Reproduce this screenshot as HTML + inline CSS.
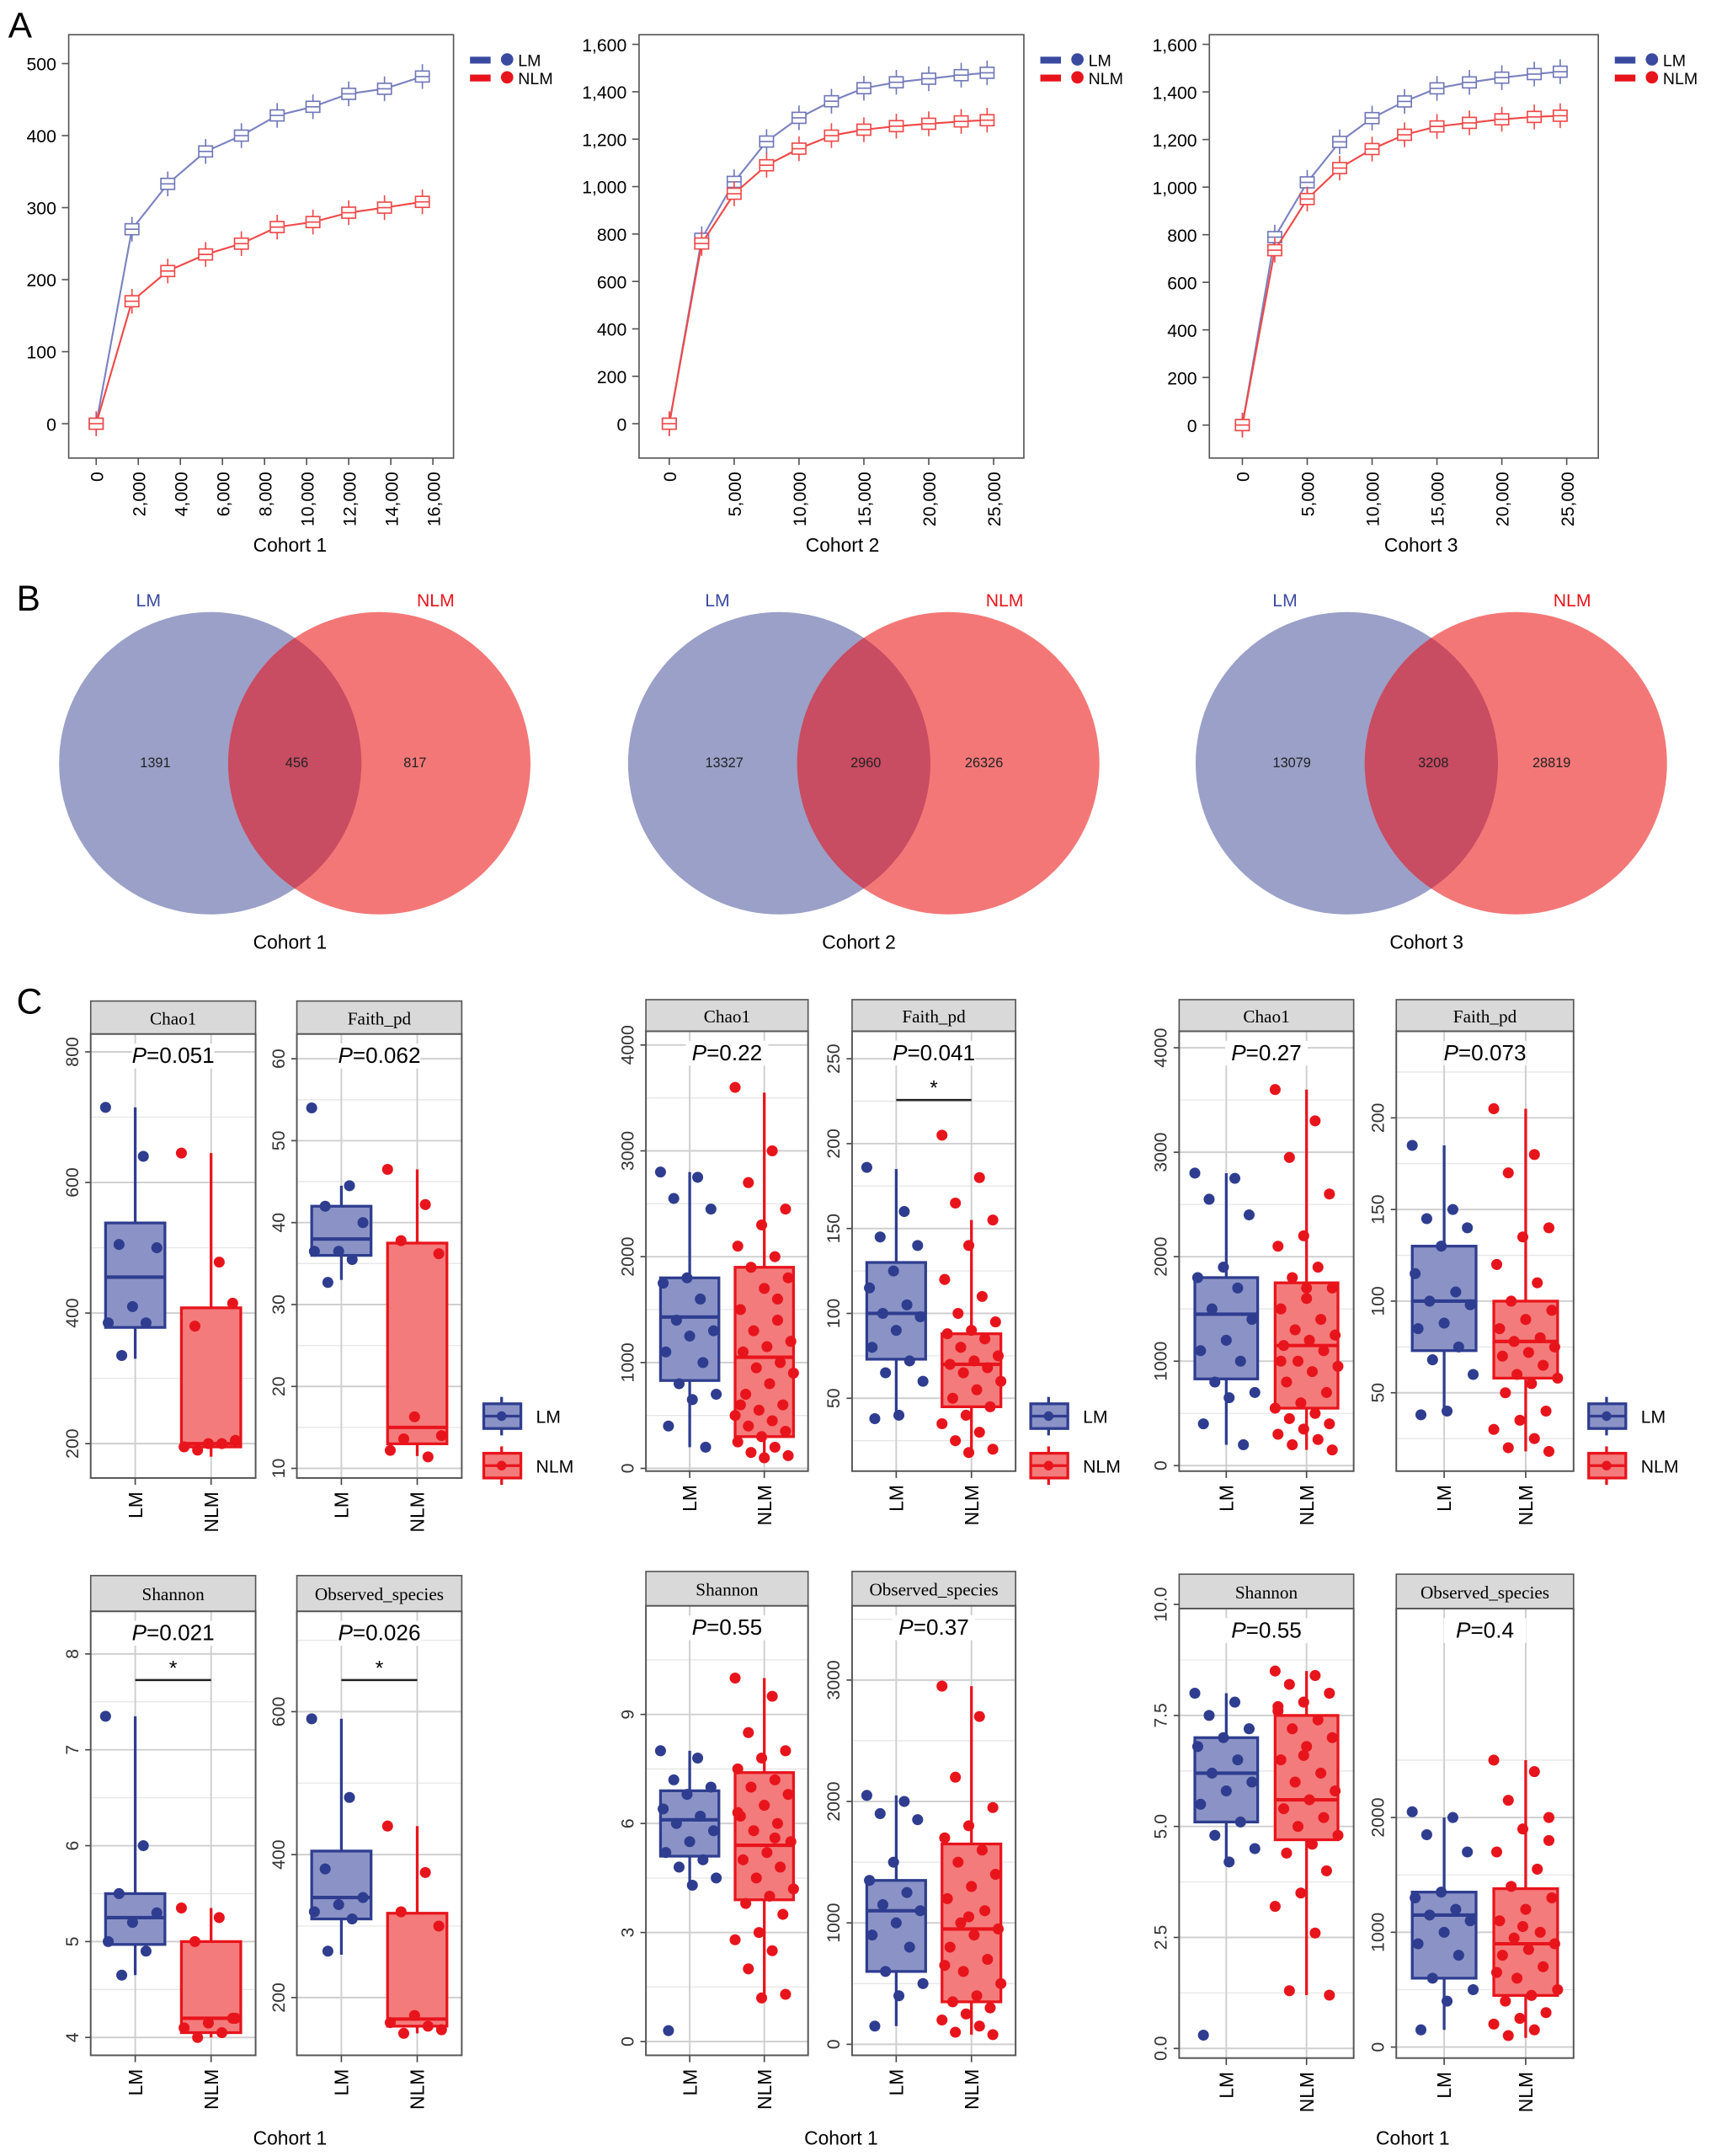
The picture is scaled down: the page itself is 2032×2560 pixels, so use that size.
<!DOCTYPE html>
<html><head><meta charset="utf-8">
<style>
html,body{margin:0;padding:0;background:#fff;}
svg{display:block;font-family:"Liberation Sans",sans-serif;}
</style></head>
<body>
<svg id="fig" width="2032" height="2560" viewBox="0 0 1245 1568" xmlns="http://www.w3.org/2000/svg"></svg>
<script>
// ---------- Panel A data (rarefaction) ----------
const a1x=[0,1700,3400,5200,6900,8600,10300,12000,13700,15500];
const a1lm=[0,270,333,378,400,428,440,458,465,482];
const a1nlm=[0,170,212,235,250,273,280,293,300,308];
const a2x=[0,2500,5000,7500,10000,12500,15000,17500,20000,22500,24500];
const a2lm=[0,780,1020,1190,1290,1360,1415,1440,1455,1470,1480];
const a2nlm=[0,760,970,1090,1160,1215,1240,1255,1265,1275,1280];
const a3x=[0,2500,5000,7500,10000,12500,15000,17500,20000,22500,24500];
const a3lm=[0,790,1020,1190,1290,1360,1415,1440,1460,1475,1485];
const a3nlm=[0,735,950,1080,1160,1220,1255,1270,1285,1295,1300];
const a1xt=[0,2000,4000,6000,8000,10000,12000,14000,16000];
const a1yt=[0,100,200,300,400,500];
const a23xt=[0,5000,10000,15000,20000,25000];
const a23yt=[0,200,400,600,800,1000,1200,1400,1600];
// ---------- Panel B data (Venn) ----------
const vennLM=[1391,13327,13079];
const vennBoth=[456,2960,3208];
const vennNLM=[817,26326,28819];
// ---------- Panel C data: box stats [lo,q1,med,q3,hi] and points ----------
const c1ChaoLM=[330,378,455,538,715], c1ChaoNLM=[180,195,200,408,645];
const c1ChaoLMp=[715,640,505,500,410,385,385,335];
const c1ChaoNLMp=[645,478,380,415,200,195,200,190,205];
const c1FaithLM=[33,36,38,42,44.5], c1FaithNLM=[11.5,13,15,37.5,46.5];
const c1FaithLMp=[54,44.5,42,40,36.5,36.5,35.5,32.7];
const c1FaithNLMp=[46.5,42.2,37.8,36.2,16.3,12.2,11.4,13.6,14];
const c2ChaoLM=[200,830,1430,1800,2800], c2ChaoNLM=[100,300,1050,1900,3550];
const c2ChaoLMp=[2800,2750,2550,2450,1800,1750,1600,1400,1300,1250,1100,1000,800,700,650,400,200];
const c2ChaoNLMp=[3600,3000,2700,2450,2300,2100,2000,1900,1800,1700,1500,1400,1300,1200,1150,1100,1000,950,900,800,700,600,550,500,450,400,350,300,250,200,150,120,100,600,1600];
const c2FaithLM=[38,73,100,130,185], c2FaithNLM=[18,45,70,88,155];
const c2FaithLMp=[186,160,145,140,125,115,105,100,98,90,80,72,65,60,40,38];
const c2FaithNLMp=[205,180,165,155,140,120,110,100,95,90,88,85,80,75,72,70,68,65,60,55,50,45,40,35,30,25,20,18];
const c3ChaoLM=[200,830,1450,1800,2800], c3ChaoNLM=[150,550,1150,1750,3600];
const c3ChaoLMp=[2800,2750,2550,2400,1900,1800,1700,1500,1400,1200,1100,1000,800,700,650,400,200];
const c3ChaoNLMp=[3600,3300,2950,2600,2200,2100,1900,1800,1700,1600,1500,1400,1300,1250,1200,1150,1100,1000,950,900,800,700,600,550,500,450,400,350,300,250,200,150,1700,1000];
const c3FaithLM=[38,73,100,130,185], c3FaithNLM=[18,58,78,100,205];
const c3FaithLMp=[185,150,145,140,130,115,105,100,98,88,85,75,68,60,40,38];
const c3FaithNLMp=[205,180,170,140,135,120,110,100,95,90,85,80,78,75,72,70,65,60,58,55,50,40,35,30,25,20,18];
const c1ShanLM=[4.65,4.97,5.25,5.5,7.35], c1ShanNLM=[4.0,4.05,4.2,5.0,5.35];
const c1ShanLMp=[7.35,6.0,5.5,5.3,5.2,5.0,4.9,4.65];
const c1ShanNLMp=[5.35,5.25,5.0,4.2,4.15,4.1,4.05,4.0,4.2];
const c1ObsLM=[260,310,340,405,590], c1ObsNLM=[150,160,170,318,440];
const c1ObsLMp=[590,480,380,340,330,320,310,265];
const c1ObsNLMp=[440,375,320,300,175,165,160,150,155];
const c2ShanLM=[4.3,5.1,6.1,6.9,8], c2ShanNLM=[1.2,3.9,5.4,7.4,10];
const c2ShanLMp=[8,7.8,7.2,7,6.8,6.4,6.2,6,5.8,5.5,5.2,5,4.8,4.5,4.3,0.3];
const c2ShanNLMp=[10,9.5,8.5,8,7.8,7.5,7.2,7,6.8,6.5,6.2,6,5.8,5.5,5.2,5,4.8,4.5,4.2,4,3.8,3.5,3,2.8,2.5,2,1.3,1.2,6.3,5.6];
const c2ObsLM=[150,600,1100,1350,2050], c2ObsNLM=[80,350,950,1650,2950];
const c2ObsLMp=[2050,2000,1900,1850,1500,1350,1250,1150,1100,1000,900,800,600,500,400,150];
const c2ObsNLMp=[2950,2700,2200,1950,1800,1700,1600,1500,1400,1300,1200,1100,1000,950,900,800,700,600,500,400,350,300,250,200,150,100,80,1050,650];
const c3ShanLM=[4.2,5.1,6.2,7.0,8], c3ShanNLM=[1.2,4.7,5.6,7.5,8.5];
const c3ShanLMp=[8,7.8,7.5,7.2,7,6.8,6.5,6.2,6,5.8,5.5,5.1,4.8,4.5,4.2,0.3];
const c3ShanNLMp=[8.5,8.4,8.2,8,7.8,7.6,7.4,7.2,7,6.8,6.5,6.2,6,5.8,5.6,5.4,5.2,5,4.8,4.6,4.4,4,3.5,3.2,2.6,1.3,1.2,6.6,7.7];
const c3ObsLM=[150,600,1150,1350,2000], c3ObsNLM=[80,450,900,1380,2500];
const c3ObsLMp=[2050,2000,1850,1700,1350,1300,1200,1150,1100,1000,900,800,600,500,400,150];
const c3ObsNLMp=[2500,2400,2150,2000,1900,1700,1550,1400,1300,1200,1100,1000,950,900,850,800,700,600,500,450,400,300,250,200,150,100,1800,1050,650];

const NS='http://www.w3.org/2000/svg';
const svg=document.getElementById('fig');
function mk(tag,attrs,parent,name,inter){
  const e=document.createElementNS(NS,tag);
  for(const k in attrs)e.setAttribute(k,attrs[k]);
  
  
  (parent||svg).appendChild(e);return e;
}
function txt(x,y,s,attrs,name,parent){const t=mk('text',Object.assign({x:x,y:y},attrs),parent,name);t.textContent=s;return t;}
function lin(a,b){return v=>a[1]+(v-a[0])*(b[1]-a[1])/(b[0]-a[0]);}
const fmt=v=>v.toLocaleString('en-US');

// panel letters
txt(6,27,'A',{'font-size':26},'panel-a-label');
txt(12,444,'B',{'font-size':26},'panel-b-label');
txt(12,737,'C',{'font-size':26},'panel-c-label');

// ---------- Panel A ----------
function rare(id,box,xs,lm,nlm,xticks,yticks,xMap,yMap,title,legX,titleX){
  const g=mk('g',{},svg,'rarefaction-'+id);
  const X=lin(xMap[0],xMap[1]),Y=lin(yMap[0],yMap[1]);
  mk('rect',{x:box[0],y:box[1],width:box[2]-box[0],height:box[3]-box[1],fill:'none',stroke:'#555','stroke-width':1},g,'plot-frame');
  yticks.forEach(v=>{const y=Y(v);
    mk('line',{x1:box[0]-5,x2:box[0],y1:y,y2:y,stroke:'#555'},g,'y-tick');
    txt(box[0]-9,y+5,fmt(v),{'font-size':13,'text-anchor':'end'},'y-tick-label',g);});
  xticks.forEach(v=>{const x=X(v);
    mk('line',{x1:x,x2:x,y1:box[3],y2:box[3]+5,stroke:'#555'},g,'x-tick');
    txt(x+5,box[3]+10,fmt(v),{'font-size':13,'text-anchor':'end',transform:`rotate(-90 ${x+5} ${box[3]+10})`},'x-tick-label',g);});
  txt(titleX,box[3]+68,title,{'font-size':14,'text-anchor':'middle'},'x-axis-title',g);
  [[lm,'#7b82c0','#6f77b8','lm'],[nlm,'#f04848','#f04848','nlm']].forEach(([d,c,bc,n])=>{
    mk('polyline',{points:xs.map((v,i)=>X(v)+','+Y(d[i])).join(' '),fill:'none',stroke:c,'stroke-width':1.3},g,'curve-'+n);
    xs.forEach((v,i)=>{const x=X(v),y=Y(d[i]);
      mk('line',{x1:x,x2:x,y1:y-9,y2:y+9,stroke:bc,'stroke-width':1},g,'marker-whisker-'+n);
      mk('rect',{x:x-5,y:y-4,width:10,height:8,fill:'#fff',stroke:bc,'stroke-width':1},g,'marker-box-'+n);
      mk('line',{x1:x-5,x2:x+5,y1:y,y2:y,stroke:bc},g,'marker-median-'+n);});
  });
  [[44,'#3a4aa0','LM'],[57,'#e8141c','NLM']].forEach(([y,c,l])=>{
    mk('rect',{x:legX,y:y-3,width:15,height:5,fill:c},g,'legend-swatch-'+l.toLowerCase());
    mk('circle',{cx:legX+27,cy:y-1,r:4.5,fill:c},g,'legend-dot-'+l.toLowerCase());
    txt(legX+35,y+4,l,{'font-size':12},'legend-label-'+l.toLowerCase(),g);});
}
rare('cohort1',[50,25,330,333],a1x,a1lm,a1nlm,a1xt,a1yt,[[0,70],[16000,315]],[[0,308],[500,46]],'Cohort 1',342,211);
rare('cohort2',[465,25,745,333],a2x,a2lm,a2nlm,a23xt,a23yt,[[0,487],[25000,723]],[[0,308],[1600,32]],'Cohort 2',757,613);
rare('cohort3',[880,25,1163,333],a3x,a3lm,a3nlm,a23xt,a23yt,[[0,904],[25000,1140]],[[0,309],[1600,32]],'Cohort 3',1175,1034);

// ---------- Panel B ----------
const defs=mk('defs',{},svg,'defs');
[[153,'Cohort 1'],[567,'Cohort 2'],[980,'Cohort 3']].forEach(([cx,t],i)=>{
  const g=mk('g',{},svg,'venn-cohort'+(i+1));
  const cp=mk('clipPath',{id:'clip'+i},defs,'venn-clip');
  mk('circle',{cx:cx,cy:555,r:110},cp,'clip-circle');
  mk('circle',{cx:cx,cy:555,r:110,fill:'#9aa0c8'},g,'venn-lm-circle');
  mk('circle',{cx:cx+123,cy:555,r:110,fill:'#f47777'},g,'venn-nlm-circle');
  mk('circle',{cx:cx+123,cy:555,r:110,fill:'#c84c62','clip-path':`url(#clip${i})`},g,'venn-overlap');
  txt(cx-40,558,vennLM[i],{'font-size':10,'text-anchor':'middle',fill:'#222'},'venn-lm-count',g);
  txt(cx+63,558,vennBoth[i],{'font-size':10,'text-anchor':'middle',fill:'#222'},'venn-shared-count',g);
  txt(cx+149,558,vennNLM[i],{'font-size':10,'text-anchor':'middle',fill:'#222'},'venn-nlm-count',g);
  txt(cx-45,441,'LM',{'font-size':13,'text-anchor':'middle',fill:'#3a4aa0'},'venn-lm-title',g);
  txt(cx+164,441,'NLM',{'font-size':13,'text-anchor':'middle',fill:'#e8141c'},'venn-nlm-title',g);
  txt(cx+58,690,t,{'font-size':14,'text-anchor':'middle'},'venn-cohort-title',g);
});

// ---------- Panel C ----------
function facet(o){
  const g=mk('g',{},svg,'facet-'+o.id);
  const Y=lin(o.ym[0],o.ym[1]);
  const x0=o.x[0],x1=o.x[1],st=o.y[0],pt=o.y[1],pb=o.y[2];
  const w=x1-x0,xl=x0+w*0.27,xn=x0+w*0.73;
  mk('rect',{x:x0,y:st,width:w,height:pt-st,fill:'#d9d9d9',stroke:'#555'},g,'strip');
  txt((x0+x1)/2,st+(pt-st)/2+5,o.title,{'font-size':13,'text-anchor':'middle','font-family':'"Liberation Serif",serif'},'strip-title',g);
  mk('rect',{x:x0,y:pt,width:w,height:pb-pt,fill:'#fff'},g,'plot-bg');
  const step=o.ticks[1]-o.ticks[0];
  o.ticks.forEach((v,i)=>{const y=Y(v);
    if(y>pt&&y<pb)mk('line',{x1:x0,x2:x1,y1:y,y2:y,stroke:'#cfcfcf','stroke-width':1.2},g,'grid-major');
    const ym=Y(v+step/2);if(ym>pt&&ym<pb)mk('line',{x1:x0,x2:x1,y1:ym,y2:ym,stroke:'#e6e6e6','stroke-width':0.8},g,'grid-minor');
    const ym2=Y(v-step/2);if(i==0&&ym2>pt&&ym2<pb)mk('line',{x1:x0,x2:x1,y1:ym2,y2:ym2,stroke:'#e6e6e6','stroke-width':0.8},g,'grid-minor');
    mk('line',{x1:x0-4,x2:x0,y1:y,y2:y,stroke:'#444'},g,'y-tick');
    const lx=x0-9;
    txt(lx,y,o.labels?o.labels[i]:String(v),{'font-size':13,'text-anchor':'middle',fill:'#333',transform:`rotate(-90 ${lx} ${y})`},'y-tick-label',g);});
  [xl,xn].forEach(x=>mk('line',{x1:x,x2:x,y1:pt,y2:pb,stroke:'#cfcfcf','stroke-width':1.2},g,'grid-x'));
  const py=pt+21;
  mk('rect',{x:(x0+x1)/2-30,y:py-14,width:60,height:18,fill:'#fff'},g,'p-bg');
  const t=txt((x0+x1)/2,py,'',{'font-size':16,'text-anchor':'middle'},'p-value',g);
  const ts=mk('tspan',{'font-style':'italic'},t,'p-symbol');ts.textContent='P';
  const tv=mk('tspan',{},t,'p-number');tv.textContent='='+o.p;
  if(o.star){const sy=pt+50;
    mk('line',{x1:xl,x2:xn,y1:sy,y2:sy,stroke:'#222','stroke-width':1.5},g,'signif-bracket');
    txt((xl+xn)/2,sy-4,'*',{'font-size':15,'text-anchor':'middle'},'signif-star',g);}
  const bw=w*0.36;
  [[xl,o.lm,o.lmp,'#8b93c6','#2e3d8f','lm'],[xn,o.nlm,o.nlmp,'#f47b7b','#e8141c','nlm']].forEach(([cx,s,pts,f,c,n])=>{
    mk('line',{x1:cx,x2:cx,y1:Y(s[0]),y2:Y(s[4]),stroke:c,'stroke-width':2},g,'whisker-'+n);
    mk('rect',{x:cx-bw/2,y:Y(s[3]),width:bw,height:Y(s[1])-Y(s[3]),fill:f,stroke:c,'stroke-width':2},g,'box-'+n);
    mk('line',{x1:cx-bw/2,x2:cx+bw/2,y1:Y(s[2]),y2:Y(s[2]),stroke:c,'stroke-width':2.5},g,'median-'+n);
    pts.forEach((v,i)=>{const j=(((i*37)%23)/22-0.5)*bw*1.0;
      mk('circle',{cx:cx+j,cy:Y(v),r:4,fill:c},g,'point-'+n);});
    mk('line',{x1:cx,x2:cx,y1:pb,y2:pb+5,stroke:'#444'},g,'x-tick');
    txt(cx+5,pb+10,n.toUpperCase(),{'font-size':14,'text-anchor':'end',transform:`rotate(-90 ${cx+5} ${pb+10})`},'x-tick-label',g);
  });
  mk('rect',{x:x0,y:pt,width:w,height:pb-pt,fill:'none',stroke:'#555','stroke-width':1.2},g,'plot-frame');
}
const R1=[728,752,1075],R2=[1146,1172,1495];
facet({id:'c1-chao1',x:[66,186],y:R1,title:'Chao1',p:'0.051',ym:[[200,1050],[800,765]],ticks:[200,400,600,800],lm:c1ChaoLM,nlm:c1ChaoNLM,lmp:c1ChaoLMp,nlmp:c1ChaoNLMp});
facet({id:'c1-faith',x:[216,336],y:R1,title:'Faith_pd',p:'0.062',ym:[[10,1068],[60,770]],ticks:[10,20,30,40,50,60],lm:c1FaithLM,nlm:c1FaithNLM,lmp:c1FaithLMp,nlmp:c1FaithNLMp});
facet({id:'c2-chao1',x:[470,588],y:[727,750,1070],title:'Chao1',p:'0.22',ym:[[0,1068],[4000,760]],ticks:[0,1000,2000,3000,4000],lm:c2ChaoLM,nlm:c2ChaoNLM,lmp:c2ChaoLMp,nlmp:c2ChaoNLMp});
facet({id:'c2-faith',x:[620,739],y:[727,750,1070],title:'Faith_pd',p:'0.041',star:true,ym:[[50,1017],[250,770]],ticks:[50,100,150,200,250],lm:c2FaithLM,nlm:c2FaithNLM,lmp:c2FaithLMp,nlmp:c2FaithNLMp});
facet({id:'c3-chao1',x:[858,985],y:[727,750,1070],title:'Chao1',p:'0.27',ym:[[0,1066],[4000,762]],ticks:[0,1000,2000,3000,4000],lm:c3ChaoLM,nlm:c3ChaoNLM,lmp:c3ChaoLMp,nlmp:c3ChaoNLMp});
facet({id:'c3-faith',x:[1016,1145],y:[727,750,1070],title:'Faith_pd',p:'0.073',ym:[[50,1013],[200,813]],ticks:[50,100,150,200],lm:c3FaithLM,nlm:c3FaithNLM,lmp:c3FaithLMp,nlmp:c3FaithNLMp});
facet({id:'c1-shannon',x:[66,186],y:R2,title:'Shannon',p:'0.021',star:true,ym:[[4,1482],[8,1203]],ticks:[4,5,6,7,8],lm:c1ShanLM,nlm:c1ShanNLM,lmp:c1ShanLMp,nlmp:c1ShanNLMp});
facet({id:'c1-observed',x:[216,336],y:R2,title:'Observed_species',p:'0.026',star:true,ym:[[200,1453],[600,1245]],ticks:[200,400,600],lm:c1ObsLM,nlm:c1ObsNLM,lmp:c1ObsLMp,nlmp:c1ObsNLMp});
facet({id:'c2-shannon',x:[470,588],y:[1143,1168,1495],title:'Shannon',p:'0.55',ym:[[0,1485],[9,1247]],ticks:[0,3,6,9],lm:c2ShanLM,nlm:c2ShanNLM,lmp:c2ShanLMp,nlmp:c2ShanNLMp});
facet({id:'c2-observed',x:[620,739],y:[1143,1168,1495],title:'Observed_species',p:'0.37',ym:[[0,1487],[3000,1222]],ticks:[0,1000,2000,3000],lm:c2ObsLM,nlm:c2ObsNLM,lmp:c2ObsLMp,nlmp:c2ObsNLMp});
facet({id:'c3-shannon',x:[858,985],y:[1145,1170,1497],title:'Shannon',p:'0.55',ym:[[0,1490],[10,1167]],ticks:[0,2.5,5,7.5,10],labels:['0.0','2.5','5.0','7.5','10.0'],lm:c3ShanLM,nlm:c3ShanNLM,lmp:c3ShanLMp,nlmp:c3ShanNLMp});
facet({id:'c3-observed',x:[1016,1145],y:[1145,1170,1497],title:'Observed_species',p:'0.4',ym:[[0,1489],[2000,1322]],ticks:[0,1000,2000],lm:c3ObsLM,nlm:c3ObsNLM,lmp:c3ObsLMp,nlmp:c3ObsNLMp});

// legends
[352,750,1156].forEach((lx,i)=>{
  const g=mk('g',{},svg,'box-legend-'+(i+1));
  [[1030,'#8b93c6','#2e3d8f','LM'],[1066,'#f47b7b','#e8141c','NLM']].forEach(([y,f,c,l])=>{
    mk('line',{x1:lx+13,x2:lx+13,y1:y-14,y2:y+14,stroke:c,'stroke-width':2},g,'legend-whisker');
    mk('rect',{x:lx,y:y-9,width:27,height:18,fill:f,stroke:c,'stroke-width':2},g,'legend-box-'+l.toLowerCase());
    mk('line',{x1:lx,x2:lx+27,y1:y,y2:y,stroke:c,'stroke-width':2},g,'legend-median');
    mk('circle',{cx:lx+13,cy:y,r:3.5,fill:c},g,'legend-dot');
    txt(lx+38,y+5,l,{'font-size':13},'legend-label-'+l.toLowerCase(),g);});
});
[[211],[612],[1028]].forEach(([x],i)=>txt(x,1560,'Cohort 1',{'font-size':14,'text-anchor':'middle'},'row2-cohort-title-'+(i+1)));
</script>
</body></html>
